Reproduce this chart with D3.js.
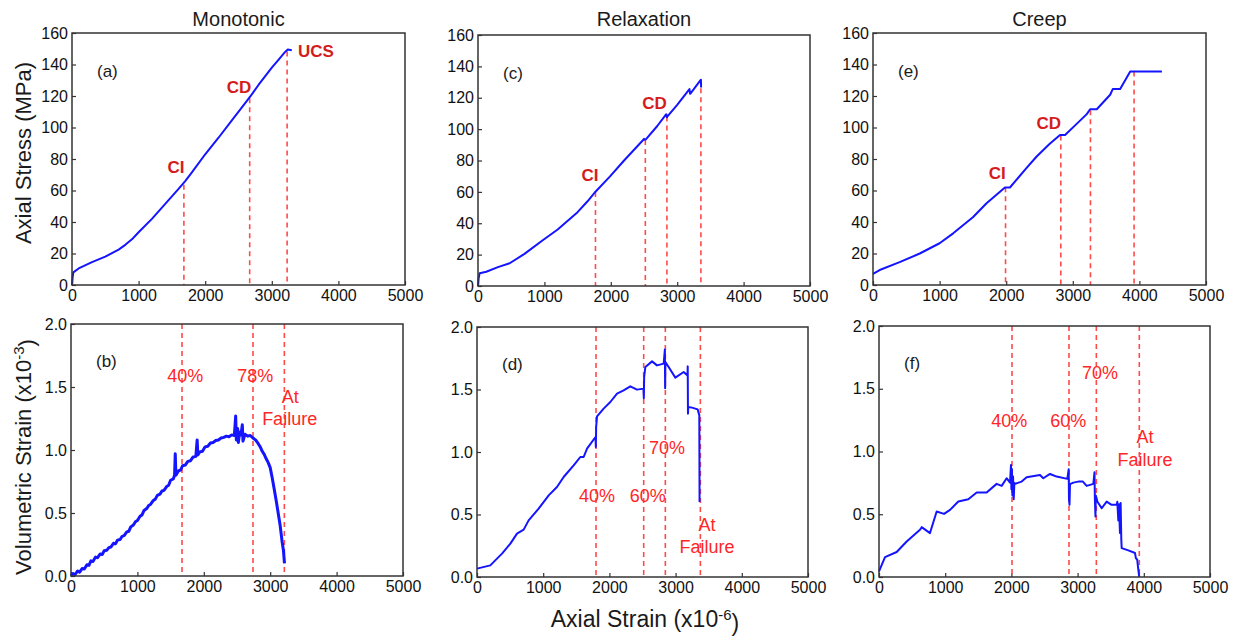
<!DOCTYPE html>
<html lang="en">
<head>
<meta charset="utf-8">
<title>Stress / strain panels</title>
<script src="https://d3js.org/d3.v7.min.js"></script>
<style>
  body { margin: 0; background: #fff; }
  text { font-family: "Liberation Sans", Arial, sans-serif; }
</style>
</head>
<body>
<script>
// ---- data ----
var xTicks = [0, 1000, 2000, 3000, 4000, 5000];
var stressTicks = [0, 20, 40, 60, 80, 100, 120, 140, 160];
var volTicks = [0, 0.5, 1.0, 1.5, 2.0];
var columnTitles = ["Monotonic", "Relaxation", "Creep"];

// axial strain (x10-6) vs axial stress (MPa)
var monoStress = [[0,0],[10,5],[20,8],[100,10.5],[300,14.5],[500,18],[700,22.5],[800,25.5],[900,29],[1000,33.5],
  [1200,42],[1400,51.5],[1600,61],[1700,66],[1800,71.5],[2000,83],[2200,93.5],[2400,104.5],[2600,115.5],
  [2700,121],[2800,127],[3000,138],[3100,143],[3200,148],[3240,149.5],[3300,149]];
var relaxStress = [[0,0],[10,5],[25,8.1],[125,9.1],[300,12],[477,14.5],[700,20.5],[980,29.3],[1200,36],
  [1482,46.3],[1650,54],[1769,60.1],[1985,69.7],[2200,80],[2487,93.1],[2500,93.8],[2510,93.2],[2528,93.5],
  [2700,102],[2835,109.5],[2845,107.5],[2850,108],[3000,115.5],[3185,125.5],[3195,122.5],[3205,123],
  [3357,131.5],[3360,126.5]];
var creepStress = [[0,7],[100,9.5],[400,14.5],[702,20],[1000,26.5],[1204,32.8],[1500,43],[1705,51.9],
  [1981,61.9],[2056,61.9],[2300,74],[2457,81.6],[2650,89.5],[2808,95.3],[2884,95.3],[3050,102],
  [3210,108.5],[3260,111.6],[3360,111.6],[3561,120.8],[3600,124.4],[3711,124.4],[3862,135.6],[4338,135.6]];

// axial strain (x10-6) vs volumetric strain (x10-3)
var monoVol = [[0,0],[30,0.02],[60,0.01],[100,0.04],[130,0.03],[170,0.06],[200,0.055],[240,0.09],[270,0.085],
  [300,0.12],[330,0.115],[370,0.15],[400,0.145],[440,0.175],[470,0.17],[500,0.2],[540,0.205],[570,0.225],
  [600,0.23],[640,0.26],[670,0.255],[700,0.285],[740,0.29],[770,0.315],[800,0.32],[840,0.35],[870,0.355],
  [900,0.39],[940,0.405],[970,0.43],[1000,0.44],[1040,0.475],[1070,0.485],[1100,0.52],[1140,0.535],[1170,0.56],
  [1200,0.57],[1240,0.6],[1270,0.61],[1300,0.64],[1340,0.65],[1370,0.675],[1400,0.68],[1440,0.71],[1470,0.72],
  [1500,0.76],[1540,0.77],[1560,0.8],[1570,0.97],[1580,0.8],[1620,0.835],[1650,0.84],[1680,0.875],[1720,0.88],
  [1760,0.91],[1800,0.915],[1840,0.945],[1880,0.95],[1900,1.08],[1910,0.96],[1940,0.985],[1980,0.99],
  [2020,1.025],[2060,1.03],[2100,1.055],[2140,1.06],[2180,1.075],[2220,1.08],[2260,1.095],[2300,1.1],
  [2340,1.11],[2380,1.105],[2420,1.12],[2460,1.115],[2480,1.27],[2490,1.08],[2510,1.17],[2520,1.06],
  [2540,1.14],[2560,1.12],[2580,1.2],[2590,1.07],[2620,1.125],[2660,1.11],[2700,1.115],[2740,1.095],
  [2780,1.08],[2820,1.05],[2850,1.025],[2880,0.99],[2910,0.965],[2940,0.93],[2970,0.9],[3000,0.86],
  [3030,0.78],[3060,0.69],[3090,0.6],[3120,0.5],[3150,0.4],[3180,0.27],[3200,0.2],[3215,0.1]];
var relaxVol = [[0,0.067],[201,0.093],[302,0.147],[378,0.187],[504,0.267],[604,0.347],[705,0.379],[780,0.453],
  [931,0.547],[1083,0.653],[1208,0.72],[1309,0.8],[1460,0.893],[1561,0.96],[1611,0.96],[1662,1.027],[1790,1.12],
  [1795,1.04],[1800,1.2],[1813,1.285],[1913,1.347],[2014,1.4],[2115,1.467],[2215,1.493],[2316,1.525],[2417,1.499],
  [2515,1.507],[2520,1.43],[2525,1.6],[2543,1.68],[2644,1.725],[2719,1.693],[2820,1.707],[2838,1.82],[2842,1.51],
  [2846,1.72],[2895,1.68],[2996,1.595],[3122,1.64],[3180,1.613],[3183,1.685],[3187,1.307],[3190,1.36],
  [3248,1.355],[3333,1.341],[3358,1.293],[3362,0.6]];
var creepVol = [[0,0.045],[91,0.159],[267,0.199],[418,0.283],[619,0.376],[645,0.397],[770,0.35],[871,0.522],
  [982,0.503],[1073,0.535],[1198,0.601],[1349,0.62],[1475,0.673],[1626,0.673],[1777,0.742],[1853,0.726],
  [1928,0.787],[1979,0.752],[1994,0.893],[2000,0.7],[2008,0.86],[2015,0.65],[2025,0.8],[2035,0.62],[2045,0.75],
  [2054,0.742],[2155,0.76],[2230,0.795],[2432,0.813],[2482,0.787],[2583,0.821],[2684,0.8],[2845,0.782],
  [2865,0.858],[2870,0.62],[2878,0.575],[2885,0.74],[2936,0.752],[3011,0.76],[3080,0.76],[3137,0.726],
  [3238,0.742],[3255,0.834],[3262,0.6],[3270,0.482],[3275,0.65],[3300,0.6],[3364,0.548],[3439,0.601],
  [3514,0.575],[3590,0.575],[3600,0.6],[3615,0.45],[3625,0.58],[3640,0.35],[3650,0.59],[3660,0.3],[3666,0.23],
  [3766,0.212],[3867,0.191],[3880,0.15],[3900,0.14],[3917,0.058],[3932,0.0]];

// threshold lines: [strain, top value] (stress) or strain only (volumetric -> full height)
var monoStressMarks = [[1680,63.6],[2668,118.6],[3230,148.3]];
var relaxStressMarks = [[1769,60],[2520,93],[2845,108],[3357,126]];
var creepStressMarks = [[1990,62],[2820,95],[3265,111],[3920,135.6]];
var monoVolMarks = [1672, 2741, 3213];
var relaxVolMarks = [1798, 2518, 2845, 3374];
var creepVolMarks = [2009, 2870, 3283, 3932];

// annotation text: [text, strain, value]
var monoStressNotes = [["CI",1560,75],["CD",2507,125.7],["UCS",3664,148.6]];
var relaxStressNotes = [["CI",1687,70.7],["CD",2657,117]];
var creepStressNotes = [["CI",1866,71],["CD",2638,102.8]];
var monoVolNotes = [["40%",1722,1.59],["78%",2776,1.59],["At",3303,1.424],["Failure",3293,1.247]];
var relaxVolNotes = [["40%",1813,0.653],["60%",2578,0.653],["70%",2870,1.032],["At",3474,0.421],["Failure",3474,0.24]];
var creepVolNotes = [["40%",1969,1.245],["60%",2860,1.245],["70%",3338,1.626],["At",4018,1.118],["Failure",4018,0.938]];

// ---- layout ----
var W = 1240, H = 637;
var panels = [
  {tag:"(a)", box:[72,33,333,252], kind:"stress", curve:monoStress, marks:monoStressMarks, notes:monoStressNotes, width:2},
  {tag:"(c)", box:[478,35,332,251], kind:"stress", curve:relaxStress, marks:relaxStressMarks, notes:relaxStressNotes, width:2},
  {tag:"(e)", box:[873,33,333,252], kind:"stress", curve:creepStress, marks:creepStressMarks, notes:creepStressNotes, width:2},
  {tag:"(b)", box:[71,324,332,252], kind:"vol", curve:monoVol, marks:monoVolMarks, notes:monoVolNotes, width:3},
  {tag:"(d)", box:[477,327,331,250], kind:"vol", curve:relaxVol, marks:relaxVolMarks, notes:relaxVolNotes, width:2},
  {tag:"(f)", box:[879,326,331,251], kind:"vol", curve:creepVol, marks:creepVolMarks, notes:creepVolNotes, width:2}
];

var svg = d3.select("body").append("svg")
  .attr("width", W)
  .attr("height", H);

panels.forEach(function(p, i) {
  var bx = p.box[0], by = p.box[1], bw = p.box[2], bh = p.box[3];
  var g = svg.append("g").attr("transform", "translate(" + bx + "," + by + ")");

  var x = d3.scaleLinear().domain([0, 5000]).range([0, bw]);
  var y = p.kind == "stress"
    ? d3.scaleLinear().domain([0, 160]).range([bh, 0])
    : d3.scaleLinear().domain([0, 2]).range([bh, 0]);

  //axes with inward ticks
  var xa = g.append("g").attr("transform", "translate(0," + bh + ")")
    .call(d3.axisBottom(x).tickValues(xTicks).tickFormat(d3.format("d"))
      .tickSizeInner(-4).tickSizeOuter(0).tickPadding(5));
  var ya = g.append("g")
    .call(d3.axisLeft(y).tickValues(p.kind == "stress" ? stressTicks : volTicks)
      .tickFormat(p.kind == "stress" ? d3.format("d") : d3.format(".1f"))
      .tickSizeInner(-4).tickSizeOuter(0).tickPadding(4));
  [xa, ya].forEach(function(a) {
    a.select(".domain").remove();
    a.selectAll("line").attr("stroke", "#333").attr("stroke-width", 1.2);
    a.selectAll("text").style("font-size", "16px").attr("fill", "#111");
  });

  //threshold lines
  var markData = p.marks.map(function(m) { return Array.isArray(m) ? m : [m, 2]; });
  g.selectAll(".mark").data(markData).enter().append("line")
    .attr("x1", function(d) { return x(d[0]); })
    .attr("x2", function(d) { return x(d[0]); })
    .attr("y1", function(d) { return y(d[1]); })
    .attr("y2", bh)
    .attr("stroke", "#ff4a4a")
    .attr("stroke-width", 1.6)
    .attr("stroke-dasharray", "5,4");

  //curve
  var line = d3.line().x(function(d) { return x(d[0]); }).y(function(d) { return y(d[1]); });
  g.append("path")
    .datum(p.curve)
    .attr("d", line)
    .attr("fill", "none")
    .attr("stroke", "#1414ff")
    .attr("stroke-width", p.width)
    .attr("stroke-linejoin", "round");

  //notes
  g.selectAll(".note").data(p.notes).enter().append("text")
    .attr("x", function(d) { return x(d[1]); })
    .attr("y", function(d) { return y(d[2]); })
    .attr("dy", "0.36em")
    .attr("text-anchor", "middle")
    .style("font-size", p.kind == "stress" ? "17px" : "18px")
    .style("font-weight", p.kind == "stress" ? "bold" : "normal")
    .attr("fill", p.kind == "stress" ? "#d41c1c" : "#ff2626")
    .text(function(d) { return d[0]; });

  //panel tag
  g.append("text")
    .attr("x", 25)
    .attr("y", p.kind == "stress" ? 44 : 43)
    .style("font-size", "17px")
    .attr("fill", "#1a1a1a")
    .text(p.tag);

  //frame
  g.append("rect")
    .attr("width", bw).attr("height", bh)
    .attr("fill", "none")
    .attr("stroke", "#333")
    .attr("stroke-width", 1.5);

  if (p.kind == "stress") {
    svg.append("text")
      .attr("x", bx + bw / 2)
      .attr("y", 26)
      .attr("text-anchor", "middle")
      .style("font-size", "20px")
      .attr("fill", "#1a1a1a")
      .text(columnTitles[i]);
  }
});

//axis titles
var yt1 = svg.append("text")
  .attr("transform", "translate(31,153) rotate(-90)")
  .attr("text-anchor", "middle")
  .style("font-size", "22px")
  .attr("fill", "#1a1a1a")
  .text("Axial Stress (MPa)");

var yt2 = svg.append("text")
  .attr("transform", "translate(31,457) rotate(-90)")
  .attr("text-anchor", "middle")
  .style("font-size", "22px")
  .attr("fill", "#1a1a1a");
yt2.append("tspan").text("Volumetric Strain (x10");
yt2.append("tspan").attr("dy", "-0.45em").style("font-size", "15px").text("-3");
yt2.append("tspan").attr("dy", "0.45em").text(")");

var xt = svg.append("text")
  .attr("x", 645)
  .attr("y", 627)
  .attr("text-anchor", "middle")
  .style("font-size", "23px")
  .attr("fill", "#1a1a1a");
xt.append("tspan").text("Axial Strain (x10");
xt.append("tspan").attr("dy", "-0.45em").style("font-size", "15px").text("-6");
xt.append("tspan").attr("dy", "0.45em").text(")");
</script>
</body>
</html>
